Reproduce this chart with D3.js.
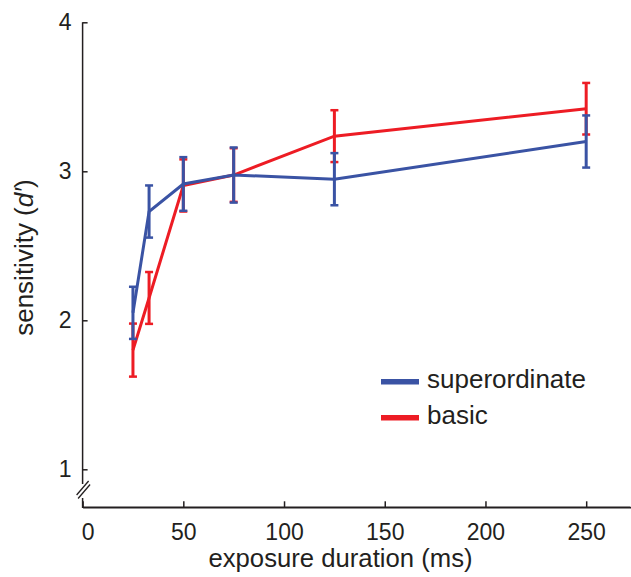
<!DOCTYPE html>
<meta charset="utf-8">
<title>Sensitivity vs exposure</title>
<style>
body { margin: 0; background: #fff; }
svg { font-family: "Liberation Sans", Arial, sans-serif; }
.axis text { fill: #231f20; font-size: 23px; }
.axis line, .axis path { stroke: #231f20; stroke-width: 1.5; }
.lbl { fill: #231f20; font-size: 25.7px; }
</style>
<script src="https://d3js.org/d3.v7.min.js"></script>
<body>
<script>

var width = 631, height = 577;

// exposure durations (ms)
var durations = [25, 33, 50, 75, 125, 250];
// mean d' and error half-widths
var superordinate = [2.05, 2.73, 2.915, 2.975, 2.947, 3.2];
var superordinateErr = [0.175, 0.175, 0.18, 0.185, 0.175, 0.175];
var basic = [1.80, 2.15, 2.905, 2.975, 3.236, 3.42];
var basicErr = [0.178, 0.174, 0.175, 0.18, 0.174, 0.173];

var xTicks = [0, 50, 100, 150, 200, 250];
var yTicks = [1, 2, 3, 4];

var series = [
  {name: "basic", color: "#ed1c24", mean: basic, err: basicErr},
  {name: "superordinate", color: "#3a53a4", mean: superordinate, err: superordinateErr}
];

var x = d3.scaleLinear().domain([0, 272]).range([82.6, 630.5]);
var y = d3.scaleLinear().domain([1, 4]).range([469.3, 22.3]);
var yBottom = 507.3;

var svg = d3.select("body").append("svg")
    .attr("width", width)
    .attr("height", height);

// x axis
var xAxis = svg.append("g")
    .attr("class", "axis")
    .attr("transform", "translate(0," + yBottom + ")")
    .call(d3.axisBottom(x).tickValues(xTicks).tickSizeInner(-6).tickSizeOuter(0).tickPadding(16));
xAxis.selectAll(".tick text").filter(function(d) { return d === 0; }).attr("dx", 5);

// y axis (ticks only, line drawn by hand because of the break)
var yAxis = svg.append("g")
    .attr("class", "axis")
    .attr("transform", "translate(" + x(0) + ",0)")
    .call(d3.axisLeft(y).tickValues(yTicks).tickFormat(d3.format("d"))
      .tickSizeInner(-5).tickSizeOuter(0).tickPadding(11));
yAxis.select(".domain").remove();

var axisX = x(0);
svg.append("path")
    .attr("d", "M" + axisX + "," + y(4) + "V484M" + axisX + ",498V" + yBottom + "H" + x(272))
    .attr("fill", "none")
    .attr("stroke", "#231f20")
    .attr("stroke-width", 1.5);

// break marks
[[0, 0], [1.5, 3.5]].forEach(function(o) {
  svg.append("line")
      .attr("x1", axisX - 6 + o[0]).attr("y1", 495 + o[1])
      .attr("x2", axisX + 6 + o[0]).attr("y2", 481 + o[1])
      .attr("stroke", "#231f20")
      .attr("stroke-width", 1.3);
});

var line = d3.line()
    .x(function(d, i) { return x(durations[i]); })
    .y(function(d) { return y(d); });

series.forEach(function(s) {
  var g = svg.append("g");

  g.append("path")
      .attr("d", line(s.mean))
      .attr("fill", "none")
      .attr("stroke", s.color)
      .attr("stroke-width", 3);

  var bars = g.selectAll("g.err")
      .data(s.mean)
    .enter().append("g")
      .attr("class", "err");

  bars.append("line")
      .attr("x1", function(d, i) { return x(durations[i]); })
      .attr("x2", function(d, i) { return x(durations[i]); })
      .attr("y1", function(d, i) { return y(d - s.err[i]); })
      .attr("y2", function(d, i) { return y(d + s.err[i]); })
      .attr("stroke", s.color)
      .attr("stroke-width", 3);

  [-1, 1].forEach(function(sign) {
    bars.append("line")
        .attr("x1", function(d, i) { return x(durations[i]) - 4; })
        .attr("x2", function(d, i) { return x(durations[i]) + 4; })
        .attr("y1", function(d, i) { return y(d + sign * s.err[i]); })
        .attr("y2", function(d, i) { return y(d + sign * s.err[i]); })
        .attr("stroke", s.color)
        .attr("stroke-width", 2.5);
  });
});

// legend
var legend = svg.append("g");
[{name: "superordinate", color: "#3a53a4"}, {name: "basic", color: "#ed1c24"}].forEach(function(d, i) {
  var ly = 381.7 + i * 36;
  legend.append("line")
      .attr("x1", 381).attr("x2", 419)
      .attr("y1", ly).attr("y2", ly)
      .attr("stroke", d.color)
      .attr("stroke-width", 5.5);
  legend.append("text")
      .attr("class", "lbl")
      .attr("x", 427).attr("y", ly + 6)
      .style("font-size", "26px")
      .text(d.name);
});

// axis labels
svg.append("text")
    .attr("class", "lbl")
    .attr("x", 340.5).attr("y", 567)
    .attr("text-anchor", "middle")
    .text("exposure duration (ms)");

var yl = svg.append("text")
    .attr("class", "lbl")
    .attr("transform", "translate(33,257.5) rotate(-90)")
    .attr("text-anchor", "middle")
    .style("font-size", "26px");
yl.append("tspan").text("sensitivity (");
yl.append("tspan").attr("font-style", "italic").text("d\u2032");
yl.append("tspan").text(")");

</script>
